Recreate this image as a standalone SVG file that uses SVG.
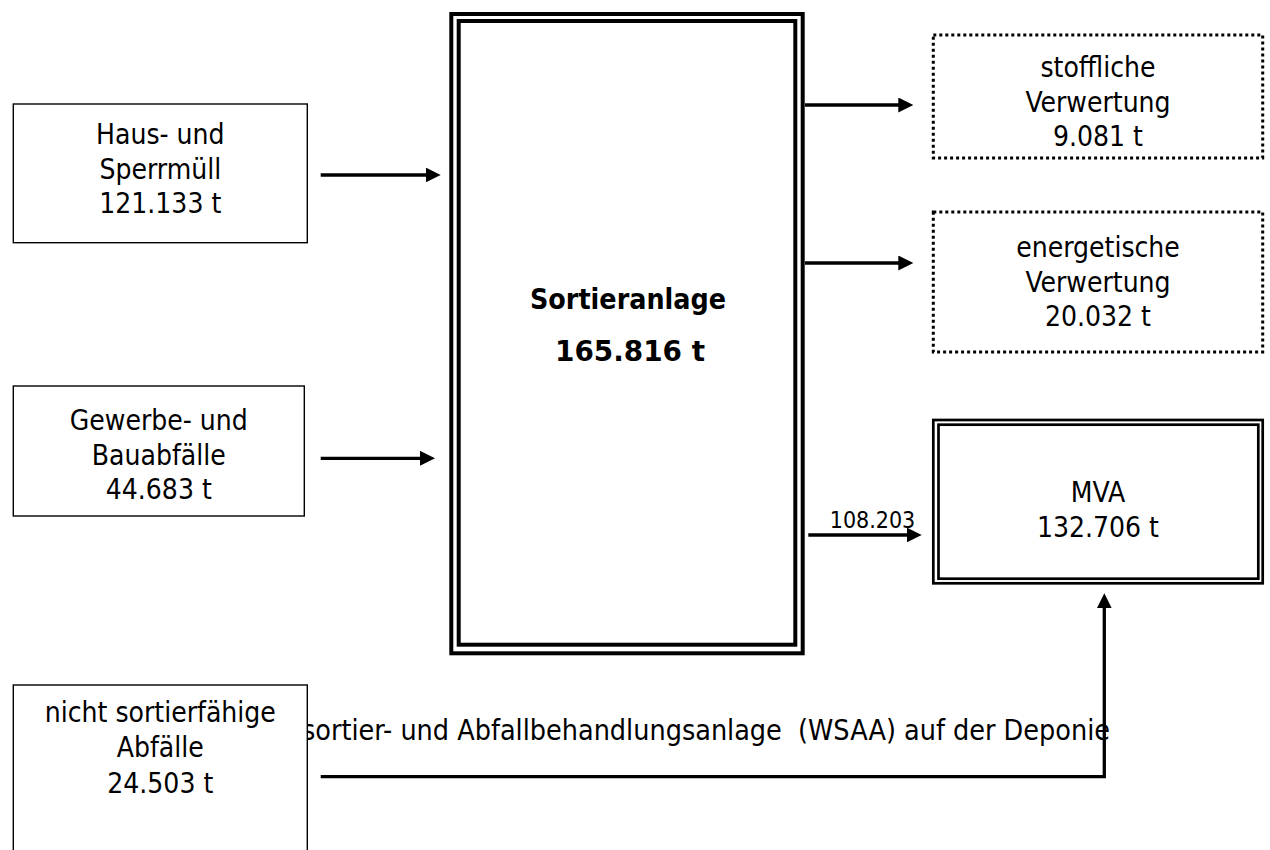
<svg xmlns="http://www.w3.org/2000/svg" width="1270" height="850" viewBox="0 0 1270 850">
<style>
.t{font-family:"DejaVu Sans Condensed","DejaVu Sans",sans-serif;font-stretch:condensed;font-size:28px;fill:#000;text-anchor:middle}
.b{font-weight:bold;font-size:28px}
.box{fill:#fff;stroke:#000;stroke-width:1.4}
.dbl{fill:none;stroke:#000;stroke-width:4}
.dbl2{fill:none;stroke:#000;stroke-width:2.7}
.dot{fill:#fff;stroke:#000;stroke-width:3;stroke-dasharray:3 3}
.c{fill:none;stroke:#000;stroke-width:3.3}
</style>
<defs>
<marker id="ah" markerUnits="userSpaceOnUse" markerWidth="17" markerHeight="17" refX="2" refY="7.5" orient="auto">
<path d="M0,0 L15,7.5 L0,15 Z" fill="#000"/>
</marker>
</defs>
<rect width="1270" height="850" fill="#fff"/>
<text class="t" x="302" y="740" textLength="808" lengthAdjust="spacingAndGlyphs" xml:space="preserve" style="text-anchor:start">sortier- und Abfallbehandlungsanlage  (WSAA) auf der Deponie</text>
<g id="connectors">
<line class="c" x1="320.7" y1="175" x2="427.7" y2="175" marker-end="url(#ah)"/>
<line class="c" x1="320.7" y1="458.3" x2="422" y2="458.3" marker-end="url(#ah)"/>
<line class="c" x1="805" y1="105" x2="900.3" y2="105" marker-end="url(#ah)"/>
<line class="c" x1="805" y1="263" x2="900.3" y2="263" marker-end="url(#ah)"/>
<line class="c" x1="808.3" y1="535" x2="908.7" y2="535" marker-end="url(#ah)"/>
<path class="c" d="M320.7,776.7 H1104.3 V606.3" marker-end="url(#ah)"/>
<text class="t" x="872.5" y="528" style="font-size:23px">108.203</text>
</g>
<g id="haus">
<rect class="box" x="13.3" y="104" width="294" height="138.7"/>
<text class="t" x="160.3" y="144">Haus- und</text>
<text class="t" x="160.3" y="178.5">Sperrmüll</text>
<text class="t" x="160.3" y="213">121.133 t</text>
</g>
<g id="gewerbe">
<rect class="box" x="13.3" y="386" width="291" height="130"/>
<text class="t" x="158.8" y="430">Gewerbe- und</text>
<text class="t" x="158.8" y="464.5">Bauabfälle</text>
<text class="t" x="158.8" y="499">44.683 t</text>
</g>
<g id="nicht">
<rect class="box" x="13.3" y="685" width="294" height="200"/>
<text class="t" x="160.3" y="722">nicht sortierfähige</text>
<text class="t" x="160.3" y="757">Abfälle</text>
<text class="t" x="160.3" y="793">24.503 t</text>
</g>
<g id="sortieranlage">
<rect class="dbl" x="451.3" y="14" width="351.4" height="639.3"/>
<rect class="dbl" x="458.7" y="21" width="336.6" height="623.7"/>
<text class="t b" x="628" y="309" textLength="196" lengthAdjust="spacingAndGlyphs">Sortieranlage</text>
<text class="t b" x="630" y="361" textLength="150" lengthAdjust="spacingAndGlyphs">165.816 t</text>
</g>
<g id="stoffliche">
<rect class="dot" x="933.3" y="35" width="329.4" height="123"/>
<text class="t" x="1098" y="77">stoffliche</text>
<text class="t" x="1098" y="111.5">Verwertung</text>
<text class="t" x="1098" y="146">9.081 t</text>
</g>
<g id="energetische">
<rect class="dot" x="933.3" y="212" width="329.4" height="140"/>
<text class="t" x="1098" y="257">energetische</text>
<text class="t" x="1098" y="291.5">Verwertung</text>
<text class="t" x="1098" y="326">20.032 t</text>
</g>
<g id="mva">
<rect class="dbl2" x="933.3" y="420" width="329.4" height="163.3"/>
<rect class="dbl2" x="938.5" y="424.7" width="319.8" height="154"/>
<text class="t" x="1098" y="502">MVA</text>
<text class="t" x="1098" y="537">132.706 t</text>
</g>
</svg>
